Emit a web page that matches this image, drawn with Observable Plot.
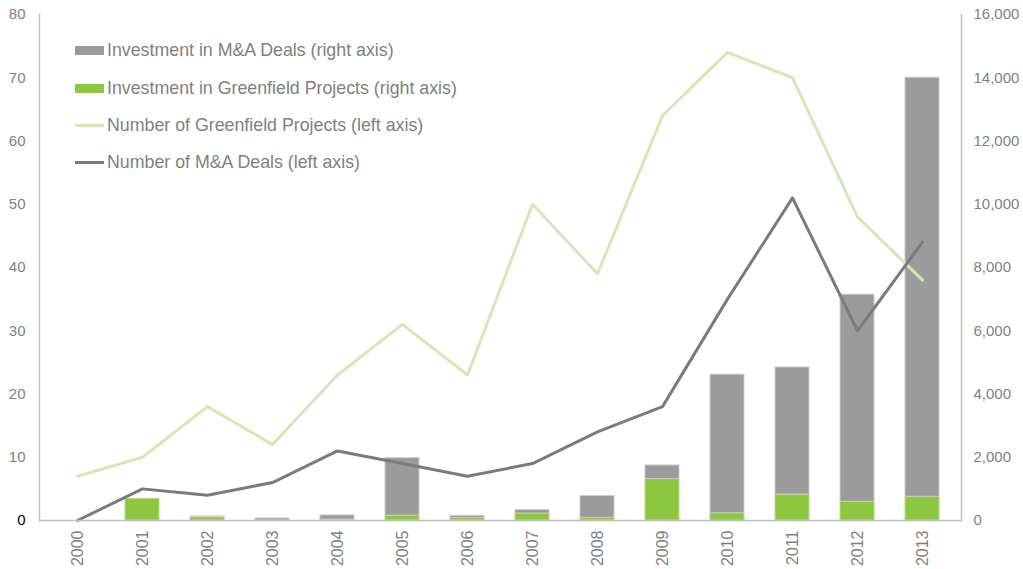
<!DOCTYPE html>
<html>
<head>
<meta charset="utf-8">
<script src="https://cdn.jsdelivr.net/npm/d3@7"></script>
<script src="https://cdn.jsdelivr.net/npm/@observablehq/plot@0.6"></script>
<style>
  html, body { margin: 0; padding: 0; background: #fff; }
  #wrap { position: relative; width: 1023px; height: 569px; font-family: "Liberation Sans", Arial, sans-serif; }
  #legend { position: absolute; left: 75px; top: 0; color: #7f7f7f; font-size: 17.8px; }
  .item { position: absolute; left: 0; white-space: nowrap; display: flex; align-items: center; height: 24px; }
  .sw { width: 29px; margin-right: 3px; }
</style>
</head>
<body>
<div id="wrap"></div>
<script>
const years = ["2000","2001","2002","2003","2004","2005","2006","2007","2008","2009","2010","2011","2012","2013"];
// left axis (counts)
const greenfieldProjects = [7, 10, 18, 12, 23, 31, 23, 50, 39, 64, 74, 70, 48, 38];
const maDeals = [0, 5, 4, 6, 11, 9, 7, 9, 14, 18, 35, 51, 30, 44];
// right axis (investment)
const greenfieldInvestment = [0, 680, 100, 0, 30, 150, 80, 220, 85, 1310, 230, 820, 590, 750];
const maInvestment = [0, 0, 26, 63, 130, 1820, 68, 110, 690, 430, 4380, 4020, 6550, 13250];
const seriesNames = ["Investment in M&A Deals (right axis)", "Investment in Greenfield Projects (right axis)", "Number of Greenfield Projects (left axis)", "Number of M&A Deals (left axis)"];
const leftTicks = [0, 10, 20, 30, 40, 50, 60, 70, 80];

const RATIO = 200; // right axis = left axis * 200
const cGray = "#9b9b9c", cGreen = "#8dc63f", cLight = "#d3e9b5", cDark = "#7b7b7b";

const bars = [];
years.forEach((y, i) => {
  bars.push({year: y, s: "gf", v: greenfieldInvestment[i] / RATIO});
  bars.push({year: y, s: "ma", v: maInvestment[i] / RATIO});
});
const gfLine = years.map((y, i) => ({year: y, v: greenfieldProjects[i]}));
const maLine = years.map((y, i) => ({year: y, v: maDeals[i]}));

const chart = Plot.plot({
  width: 1023,
  height: 569,
  marginLeft: 39,
  marginRight: 62,
  marginTop: 14,
  marginBottom: 49,
  style: {fontFamily: "Liberation Sans, Arial, sans-serif", fontSize: "15px", color: "#7f7f7f", background: "#fff"},
  x: {type: "band", domain: years, paddingInner: 0.47, paddingOuter: 0.235, align: 0.5},
  y: {domain: [0, 80]},
  color: {domain: ["gf", "ma"], range: [cGreen, cGray]},
  marks: [
    Plot.barY(bars, Plot.stackY({x: "year", y: "v", fill: "s", z: "s", order: ["gf", "ma"],
      stroke: d => d.s === "ma" ? "#cbcbcb" : "#b4dc84", strokeWidth: 1, filter: d => d.v > 0})),
    Plot.line(gfLine, {x: "year", y: "v", stroke: cLight, strokeWidth: 3}),
    Plot.line(maLine, {x: "year", y: "v", stroke: cDark, strokeWidth: 3}),
    Plot.axisY({ticks: leftTicks, anchor: "left", tickSize: 0, tickPadding: 14, label: null,
      fill: d => d === 0 ? "#000" : "#7f7f7f"}),
    Plot.axisY({ticks: leftTicks, anchor: "right", tickSize: 0, tickPadding: 12, label: null,
      tickFormat: d => d3.format(",")(d * RATIO)}),
    Plot.axisX({tickRotate: -90, tickSize: 0, tickPadding: 10, label: null, fontSize: 16}),
    Plot.frame({anchor: "left", stroke: "#bfbfbf", strokeWidth: 1.5}),
    Plot.frame({anchor: "right", stroke: "#bfbfbf", strokeWidth: 1.5}),
    Plot.ruleY([0], {stroke: "#bfbfbf", strokeWidth: 1.5})
  ]
});

const wrap = document.getElementById("wrap");
wrap.appendChild(chart);

const legend = document.createElement("div");
legend.id = "legend";
const items = [
  {name: seriesNames[0], kind: "rect", color: cGray, cy: 50},
  {name: seriesNames[1], kind: "rect", color: cGreen, cy: 88},
  {name: seriesNames[2], kind: "line", color: cLight, cy: 125},
  {name: seriesNames[3], kind: "line", color: cDark, cy: 162}
];
items.forEach(it => {
  const d = document.createElement("div");
  d.className = "item";
  d.style.top = (it.cy - 12) + "px";
  const sw = document.createElement("span");
  sw.className = "sw";
  sw.style.background = it.color;
  sw.style.height = it.kind === "rect" ? "9px" : "3px";
  const t = document.createElement("span");
  t.textContent = it.name;
  d.appendChild(sw);
  d.appendChild(t);
  legend.appendChild(d);
});
wrap.appendChild(legend);
</script>
</body>
</html>
